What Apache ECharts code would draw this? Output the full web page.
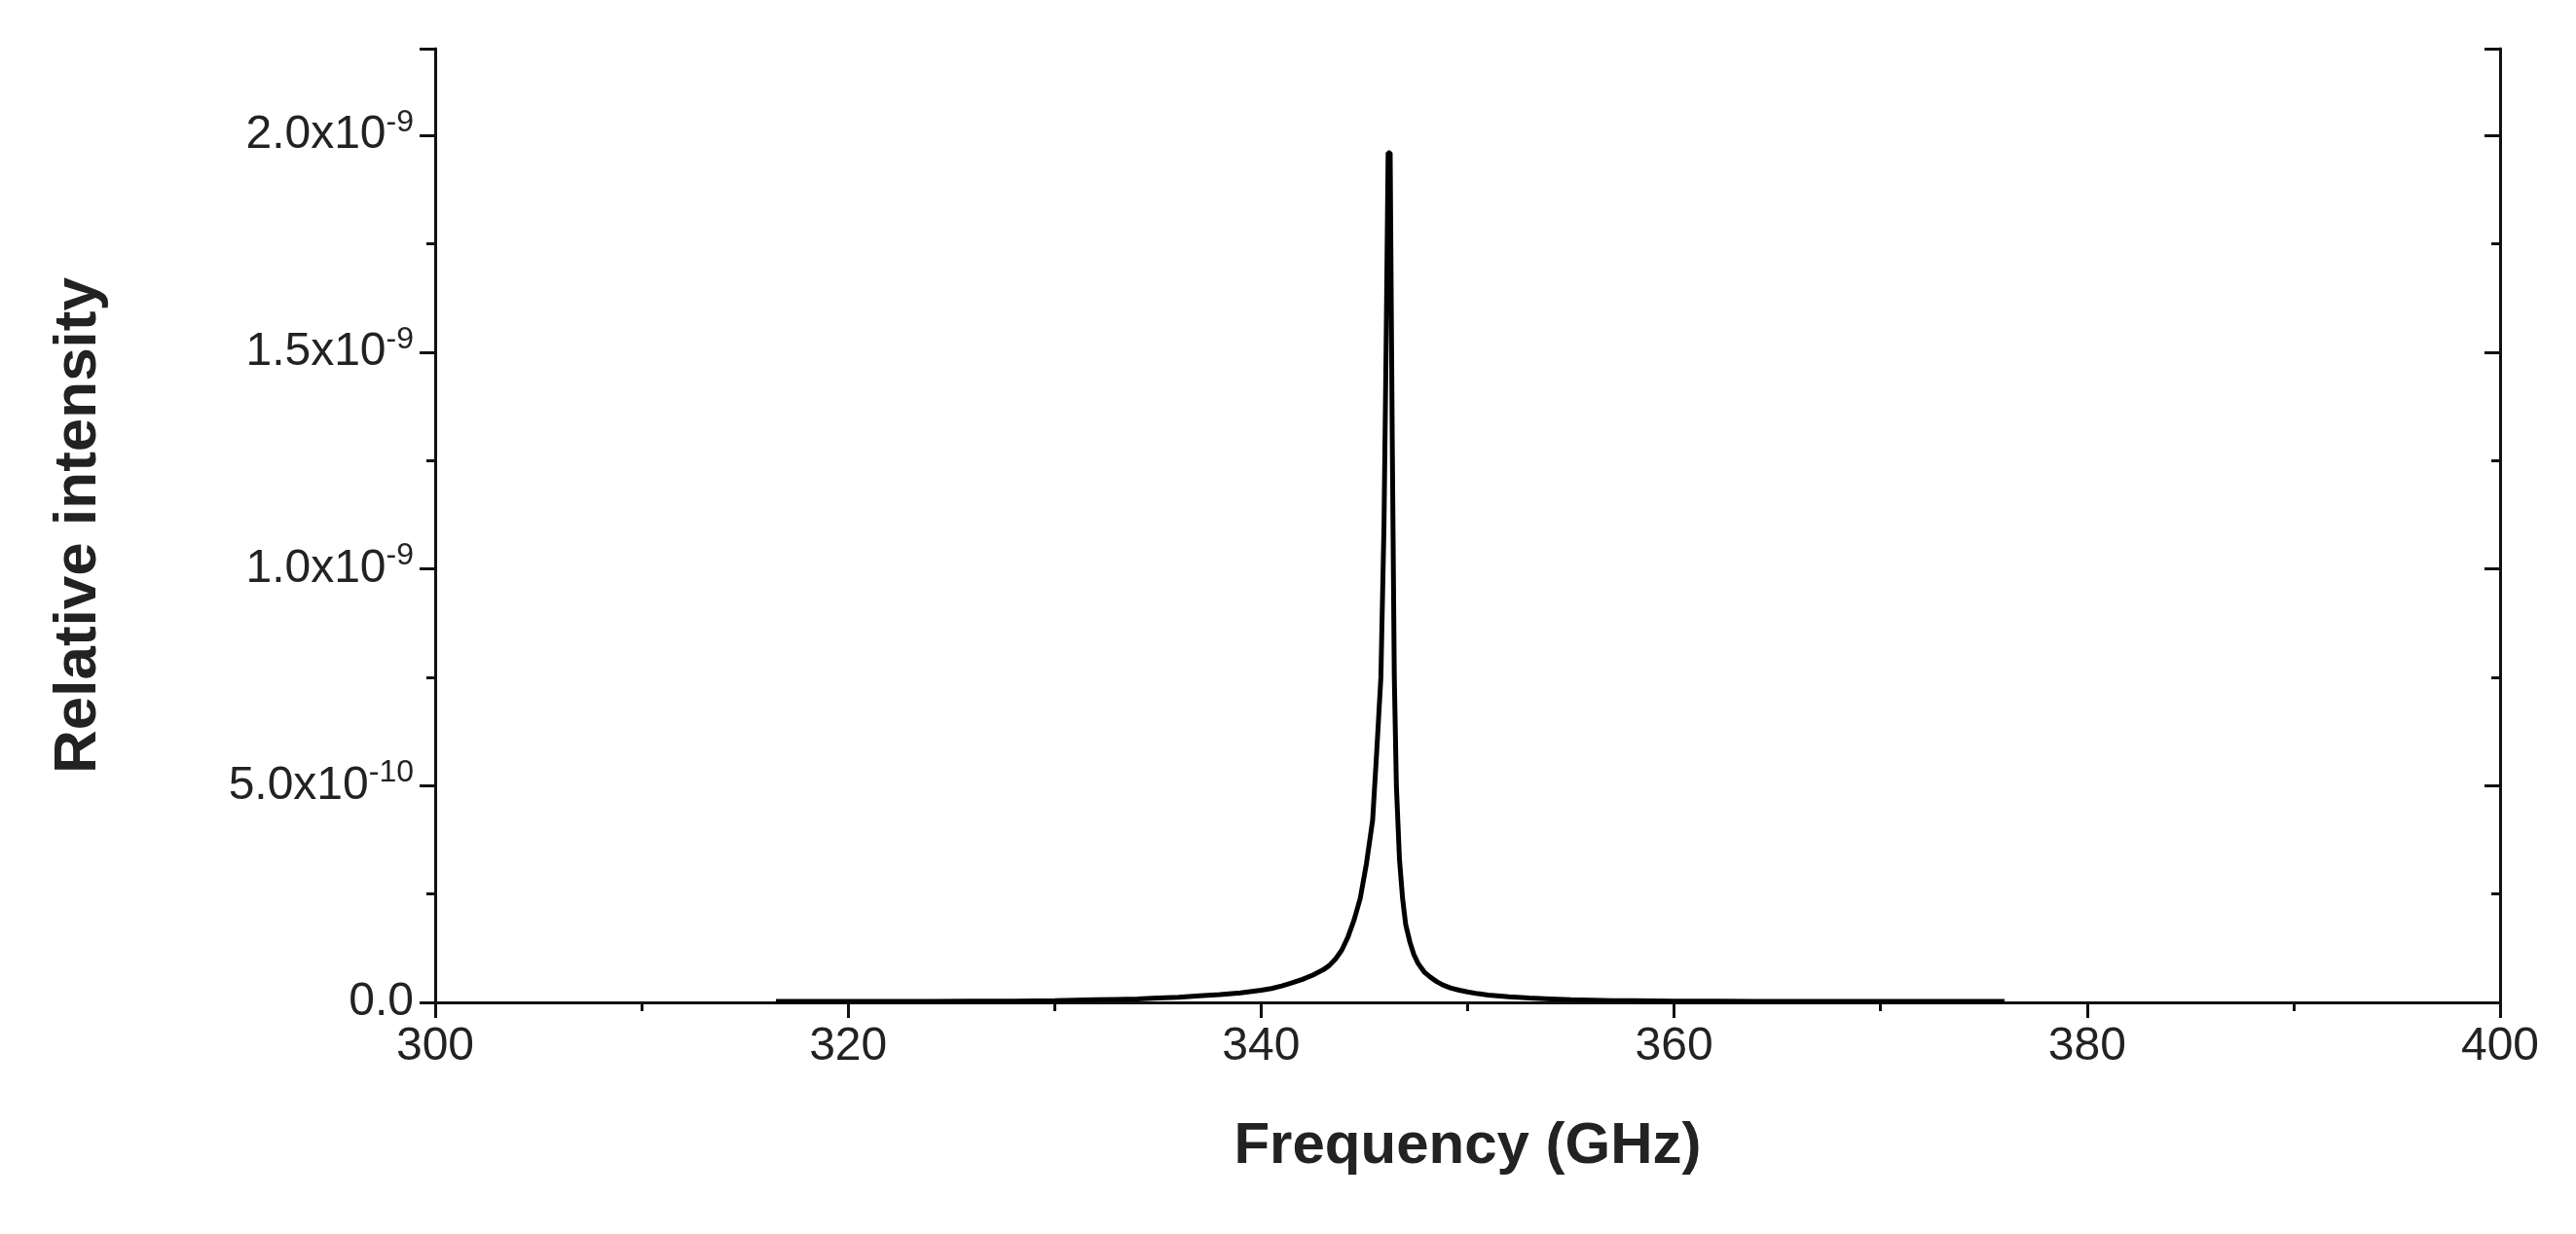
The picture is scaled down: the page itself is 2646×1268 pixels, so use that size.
<!DOCTYPE html>
<html><head><meta charset="utf-8">
<script src="https://cdn.jsdelivr.net/npm/echarts@6/dist/echarts.min.js"></script>
<style>html,body{margin:0;background:#fff}#c{width:2646px;height:1268px}</style>
</head><body><div id="c"></div>
<script>
const freq = [316.5,318,320,322,324,326,328,330,331,332,333,334,335,336,337,338,339,340,340.5,341,341.5,342,342.5,343,343.3,343.6,343.9,344.2,344.5,344.8,345.1,345.4,345.6,345.8,345.95,346.05,346.15,346.25,346.35,346.45,346.55,346.7,346.85,347.0,347.2,347.4,347.6,347.9,348.2,348.5,348.8,349.2,349.6,350,350.5,351,352,353,354,355,356,357,358,360,362,364,366,368,370,372,374,376];
const intensity = [2e-12,2e-12,2e-12,2e-12,2e-12,3e-12,3e-12,4e-12,5e-12,6e-12,7e-12,8e-12,1e-11,1.2e-11,1.5e-11,1.8e-11,2.2e-11,2.8e-11,3.2e-11,3.8e-11,4.5e-11,5.3e-11,6.3e-11,7.5e-11,8.5e-11,1.0e-10,1.2e-10,1.5e-10,1.9e-10,2.4e-10,3.2e-10,4.2e-10,5.8e-10,7.5e-10,1.1e-9,1.5e-9,1.96e-9,1.96e-9,1.3e-9,7.5e-10,5.0e-10,3.3e-10,2.4e-10,1.8e-10,1.4e-10,1.1e-10,9e-11,7e-11,5.8e-11,4.8e-11,4e-11,3.3e-11,2.8e-11,2.4e-11,2e-11,1.7e-11,1.3e-11,1e-11,8e-12,6e-12,5e-12,4e-12,4e-12,3e-12,3e-12,2e-12,2e-12,2e-12,2e-12,2e-12,2e-12,2e-12];
const xTicks = [300,320,340,360,380,400];
const yTicks = [0,5e-10,1e-9,1.5e-9,2e-9];

const data = freq.map((f,i)=>[f,intensity[i]]);
function fmtY(v){
  if (Math.abs(v) < 1e-15) return '0.0';
  const e = Math.floor(Math.log10(v)+1e-9);
  const m = v/Math.pow(10,e);
  return m.toFixed(1)+'x10{sup|'+e+'}';
}
const font = 'Liberation Sans, Arial, sans-serif';
const tk = {color:'#111',width:3};
const chart = echarts.init(document.getElementById('c'));
chart.setOption({
  animation:false,
  grid:{left:447,right:78,top:50,bottom:238},
  xAxis:[{type:'value',min:300,max:400,interval:20,
    name:'Frequency (GHz)',nameLocation:'middle',nameGap:118,
    nameTextStyle:{fontFamily:font,fontWeight:'bold',fontSize:60,color:'#222'},
    axisLine:{lineStyle:{color:'#111',width:3}},
    axisTick:{inside:false,length:16,lineStyle:tk},
    minorTick:{show:true,splitNumber:2,length:9,lineStyle:tk},
    axisLabel:{fontFamily:font,fontSize:48,color:'#222',margin:22},
    splitLine:{show:false}},
   {type:'value',position:'top',min:300,max:400,interval:20,
    axisLine:{lineStyle:{color:'#111',width:3}},axisTick:{show:false},axisLabel:{show:false},splitLine:{show:false}}],
  yAxis:[{type:'value',min:0,max:2.2e-9,interval:5e-10,
    name:'Relative intensity',nameLocation:'middle',nameGap:335,
    nameTextStyle:{fontFamily:font,fontWeight:'bold',fontSize:62,color:'#222'},
    axisLine:{show:true,lineStyle:{color:'#111',width:3}},
    axisTick:{inside:false,length:16,lineStyle:tk},
    minorTick:{show:true,splitNumber:2,length:9,lineStyle:tk},
    axisLabel:{fontFamily:font,fontSize:48,color:'#222',margin:22,formatter:fmtY,
      rich:{sup:{fontFamily:font,fontSize:32,color:'#222',verticalAlign:'top',padding:[0,0,26,0]}},
      showMaxLabel:false},
    splitLine:{show:false}},
   {type:'value',position:'right',min:0,max:2.2e-9,interval:5e-10,
    axisLine:{show:true,lineStyle:{color:'#111',width:3}},
    axisTick:{inside:true,length:16,lineStyle:tk},
    minorTick:{show:true,splitNumber:2,length:9,lineStyle:tk},
    axisLabel:{show:false},splitLine:{show:false}}],
  series:[{type:'line',data:data,showSymbol:false,lineStyle:{color:'#000',width:5}}]
});
</script></body></html>
